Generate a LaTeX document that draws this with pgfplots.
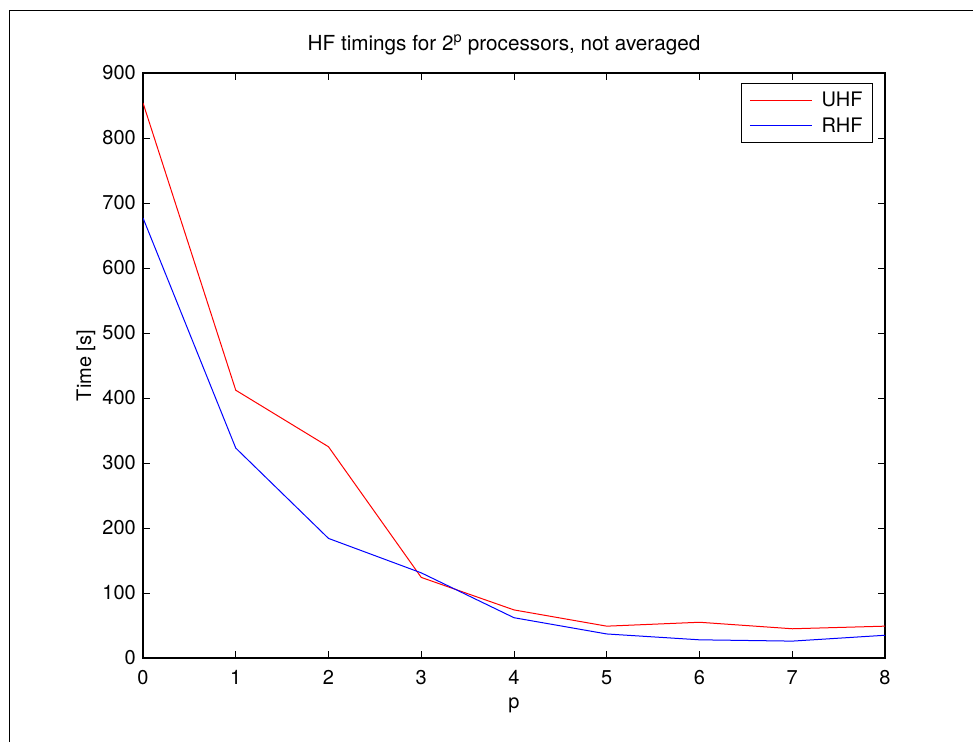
\documentclass[border=0pt]{standalone}
\usepackage{fontspec}
\setmainfont{TeX Gyre Heros}
\usepackage{pgfplots}
\pgfplotsset{compat=1.18}
\newcommand{\fs}{\fontsize{20pt}{24pt}\selectfont}
\begin{document}
\begin{tikzpicture}
\begin{axis}[
  at={(143pt,-658pt)}, anchor=south west,
  scale only axis, width=742pt, height=585pt,
  xmin=0, xmax=8, ymin=0, ymax=900,
  xtick={0,1,...,8}, ytick={0,100,...,900},
  tick align=inside, major tick length=7pt,
  tick style={black, line width=0.8pt},
  axis line style={black, line width=1.3pt},
  /pgf/number format/assume math mode=true,
  tick label style={font=\fs},
  xticklabel style={anchor=base, yshift=-26pt},
  yticklabel style={xshift=-3.7pt},
  title={HF timings for 2\textsuperscript{p} processors, not averaged},
  title style={font=\fontsize{20.7pt}{24pt}\selectfont, at={(axis description cs:0.5,1)}, anchor=base, yshift=17pt, xshift=-10pt},
  xlabel={p},
  ylabel={Time [s]},
  every axis x label/.style={at={(axis description cs:0.5,0)}, anchor=base, yshift=-50pt, font=\fs},
  every axis y label/.style={at={(axis description cs:0,0.5)}, anchor=base, rotate=90, yshift=52pt, font=\fs},
  legend style={font=\fs, at={(axis description cs:1,1)}, anchor=north east, xshift=-12pt, yshift=-10pt,
    draw=black, line width=0.8pt, inner xsep=8pt, inner ysep=7pt, row sep=5pt,
    /tikz/every odd column/.append style={column sep=7pt}},
  legend cell align=left,
]
\addplot[red, line width=1pt,
  legend image code/.code={\draw[draw=red, line width=1.1pt] (0pt,0pt) -- (62pt,0pt);}] coordinates {
(0,854) (1,412) (2,325) (3,124) (4,74) (5,49) (6,55) (7,45) (8,49)};
\addlegendentry{UHF}
\addplot[blue, line width=1pt,
  legend image code/.code={\draw[draw=blue, line width=1.1pt] (0pt,0pt) -- (62pt,0pt);}] coordinates {
(0,677) (1,323) (2,184) (3,131) (4,62) (5,37) (6,28) (7,26) (8,35)};
\addlegendentry{RHF}
\end{axis}
\draw[black, line width=1.2pt] (9.5pt,-742pt) -- (9.5pt,-10.5pt) -- (973pt,-10.5pt);
\pgfresetboundingbox
\useasboundingbox (0pt,0pt) rectangle (973pt,-742pt);
\end{tikzpicture}
\end{document}
